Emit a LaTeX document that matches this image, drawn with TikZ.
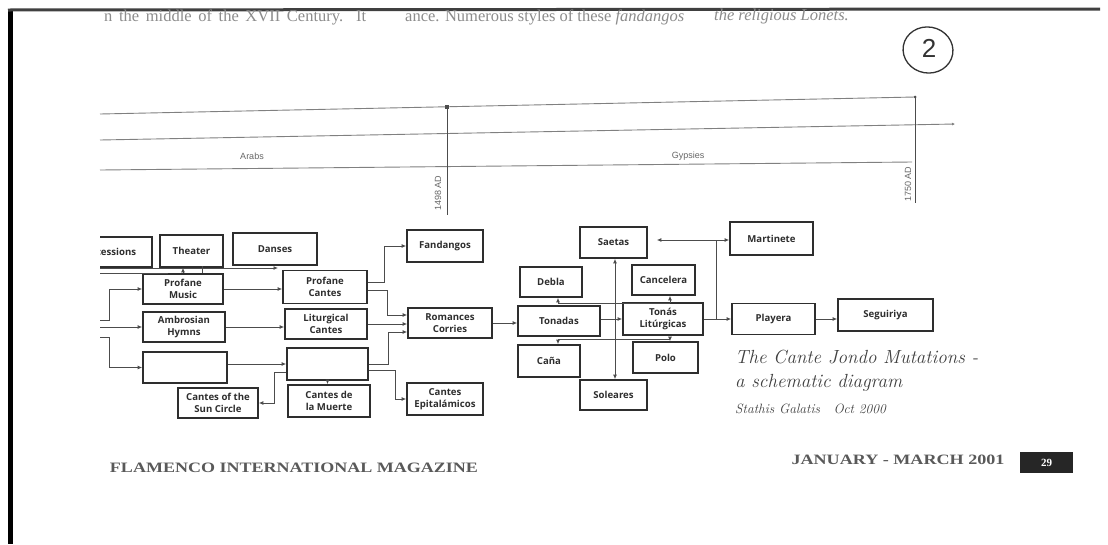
\documentclass[tikz,border=0pt]{standalone}
\usepackage{fontspec}
\usepackage{graphicx}
\usetikzlibrary{arrows.meta}
\newfontfamily\boxf{Open Sans}
\newfontfamily\hdrf{Liberation Serif}
\newfontfamily\lblf{Liberation Sans}
\definecolor{ink}{gray}{0.18}
\definecolor{lineink}{gray}{0.3}
\definecolor{tlink}{gray}{0.5}
\definecolor{hdrink}{gray}{0.55}
\newcommand\bx[6]{\node[box,minimum width=#4pt,minimum height=#5pt] (#1) at (#2,#3) {#6};}
\begin{document}
\begin{tikzpicture}[x=1pt,y=-1pt,
  box/.style={draw=ink, line width=1.6pt, fill=white, inner sep=1pt, align=center,
    text=ink, font=\boxf\bfseries\fontsize{9.6}{11.5}\selectfont},
  conn/.style={draw=lineink, line width=1pt},
  arr/.style={conn, -{Latex[length=4.5pt,width=4pt]}},
  darr/.style={conn, {Latex[length=4.5pt,width=4pt]}-{Latex[length=4.5pt,width=4pt]}},
  tl/.style={draw=tlink, line width=0.9pt},
  tllbl/.style={text=black!60, font=\lblf\fontsize{9}{10}\selectfont, inner sep=0pt},
  hdr/.style={text=hdrink, font=\hdrf\fontsize{16.5}{18}\selectfont, inner sep=0pt, anchor=west},
  ttl/.style={text=black!75, font=\itshape\fontsize{19}{21}\selectfont, inner sep=0pt, anchor=west},
  ftr/.style={text=black!65, inner sep=0pt, font=\hdrf\bfseries}
]
\useasboundingbox (0,0) rectangle (1108,544);
\fill[white] (0,0) rectangle (1108,544);

% page borders
\draw[black, line width=5pt] (10,9) -- (10,544);
\draw[black!75, line width=3pt] (8,10) -- (1100,9);

% header text
\node[hdr] (h1) at (104,17) {\makebox[262pt][s]{n the middle of the XVII Century. It}};
\node[hdr] (h2) at (405,17) {ance. Numerous styles of these \textit{fandangos}};
\node[hdr] (h3) at (714,17) {\textit{the religious Lonets.}};

% handwritten page mark
\draw[black!80, line width=1.3pt, rotate around={-10:(928,50)}] (928,50) ellipse [x radius=25pt, y radius=23pt];
\node[text=black!80, font=\lblf\fontsize{26}{28}\selectfont, inner sep=0pt] (pg) at (929,48) {2};

% timeline
\coordinate (L1a) at (100,114); \coordinate (L1b) at (915,97);
\coordinate (L2a) at (100,140); \coordinate (L2b) at (955,124);
\coordinate (L3a) at (100,170); \coordinate (L3b) at (912,162);
\coordinate (V1a) at (447,107); \coordinate (V1b) at (447,215);
\coordinate (V2a) at (915,97);  \coordinate (V2b) at (915,203);
\draw[tl] (L1a) -- (L1b);
\draw[tl, -{Latex[length=3pt,width=3pt]}] (L2a) -- (L2b);
\draw[tl] (L3a) -- (L3b);
\draw[tl, draw=black!70] (V1a) -- (V1b);
\draw[tl, draw=black!70] (V2a) -- (V2b);
\fill[black!70] ([xshift=-2pt,yshift=-2pt]V1a) rectangle ([xshift=2pt,yshift=2pt]V1a);
\fill[black!70] (V2a) circle (1.5pt);
\node[tllbl] (arabs) at (252,156) {Arabs};
\node[tllbl] (gyps) at (688,156) {Gypsies};
\node[tllbl, rotate=90] (d1498) at (438,193) {1498 AD};
\node[tllbl, rotate=90] (d1750) at (908,184) {1750 AD};

% boxes
\begin{scope}
\clip (100,200) rectangle (170,300);
\bx{proc}{108}{252}{88}{30}{Processions}
\end{scope}
\bx{theater}{191.5}{251}{63}{32}{Theater}
\bx{danses}{275}{249}{84}{32}{Danses}
\bx{pmusic}{183}{289}{80}{30}{Profane\\Music}
\bx{ambro}{184}{327}{82}{30}{Ambrosian\\Hymns}
\bx{emptya}{185}{367.5}{84}{31}{}
\bx{sun}{218}{403}{80}{30}{Cantes of the\\Sun Circle}
\bx{pcantes}{325}{287}{84}{33}{Profane\\Cantes}
\bx{litc}{326}{324}{82}{30}{Liturgical\\Cantes}
\bx{emptyb}{327.5}{364}{81}{32}{}
\bx{muerte}{329}{401}{82}{32}{Cantes de\\la Muerte}
\bx{fand}{445}{246}{76}{32}{Fandangos}
\bx{roman}{450}{323}{84}{30}{Romances\\Corries}
\bx{epit}{445}{399}{76}{32}{Cantes\\Epitalámicos}
\bx{saetas}{613.5}{242.5}{67}{31}{Saetas}
\bx{debla}{551}{282}{62}{30}{Debla}
\bx{cancel}{663.5}{280}{63}{30}{Cancelera}
\bx{tonadas}{559}{321}{82}{30}{Tonadas}
\bx{tonas}{663}{319}{80}{32}{Tonás\\Litúrgicas}
\bx{cana}{549}{361}{62}{32}{Caña}
\bx{polo}{665.5}{357.5}{65}{31}{Polo}
\bx{soleares}{613.5}{395}{67}{30}{Soleares}
\bx{mart}{771.5}{238.5}{83}{33}{Martinete}
\bx{playera}{773.5}{319}{83}{31}{Playera}
\bx{seg}{885.5}{315}{95}{32}{Seguiriya}

% left-edge connectors
\coordinate (e1) at (100,268); \coordinate (e1b) at (278,268);
\coordinate (e2) at (100,273); \coordinate (e2b) at (168,273);
\draw[arr] (e1) -- (e1b);
\draw[conn] (e2) -- (e2b);
\draw[arr] (pmusic.north) -- (pmusic.north |- theater.south);
\draw[conn] ([xshift=19pt]pmusic.north) -- ++(0,-7);
\coordinate (e3) at (100,320);
\coordinate (e4) at (100,327);
\coordinate (e5) at (100,337);
\draw[arr] (e3) -- ++(9,0) |- (pmusic.west);
\draw[arr] (e4) -- (ambro.west);
\draw[arr] (e5) -- ++(9,0) |- (emptya.west);

% column 1 -> column 2
\draw[arr] (pmusic.east) -- (pcantes.west |- pmusic.east);
\draw[arr] (ambro.east) -- (litc.west |- ambro.east);
\draw[arr] (emptya.east |- emptyb.west) -- (emptyb.west);
\draw[arr] ([yshift=-8pt]emptyb.west) -- ++(-12,0) |- (sun.east);
\draw[arr] (emptyb.south) -- (emptyb.south |- muerte.north);

% column 2 -> column 3
\draw[arr] ([yshift=5pt]pcantes.east) -- ++(17,0) |- (fand.west);
\draw[arr] ([yshift=-3pt]pcantes.east) -- ++(20,0) |- ([yshift=8pt]roman.west);
\draw[arr] (litc.east) -- (roman.west |- litc.east);
\draw[arr] (emptyb.east) -- ++(20,0) |- ([yshift=-9pt]roman.west);
\draw[arr] ([yshift=-6pt]emptyb.east) -- ++(27,0) |- (epit.west);

% column 3 -> tonadas
\draw[arr] (roman.east) -- (tonadas.west |- roman.east);

% tonadas cluster
\coordinate (bt1) at (558,303); \coordinate (bt2) at (670,303);
\coordinate (bb1) at (558,339); \coordinate (bb2) at (670,339);
\draw[conn] (bt1) -- (bt2);
\draw[conn] (bb1) -- (bb2);
\draw[arr] (bt1) -- (bt1 |- debla.south);
\draw[arr] (bt2) -- (bt2 |- cancel.south);
\draw[arr] (bb1) -- (bb1 |- cana.north);
\draw[arr] (bb2) -- (bb2 |- polo.north);
\draw[arr] (tonadas.east |- tonas.west) -- (tonas.west);
\draw[darr] (615,0 |- saetas.south) -- (615,0 |- soleares.north);

% tonas -> martinete / playera / saetas
\coordinate (j1) at (716,319);
\coordinate (j2) at (716,240);
\draw[conn] (tonas.east) -- (j1);
\draw[arr] (j1) -- (playera.west);
\draw[conn] (j1) -- (j2);
\draw[arr] (j2) -- (mart.west |- j2);
\draw[arr, shorten >=9pt] (j2) -- (saetas.east |- j2);
\draw[arr] (playera.east) -- (seg.west |- playera.east);

% title
\node[ttl] (t1) at (735,357) {The Cante Jondo Mutations -};
\node[ttl] (t2) at (735,383) {a schematic diagram};
\node[ttl, font=\itshape\fontsize{13.5}{15}\selectfont] (t3) at (735,409) {Stathis Galatis\quad Oct 2000};

% footer
\node[ftr] (f1) at (294,468) {\resizebox{368pt}{9.5pt}{FLAMENCO INTERNATIONAL MAGAZINE}};
\node[ftr] (f2) at (898,460) {\resizebox{213pt}{9.5pt}{JANUARY - MARCH 2001}};
\node[fill=black!85, minimum width=53pt, minimum height=21pt, inner sep=0pt,
  text=white, font=\hdrf\bfseries\fontsize{11}{12}\selectfont] (pnum) at (1046.5,462.5) {29};
\end{tikzpicture}
\end{document}
